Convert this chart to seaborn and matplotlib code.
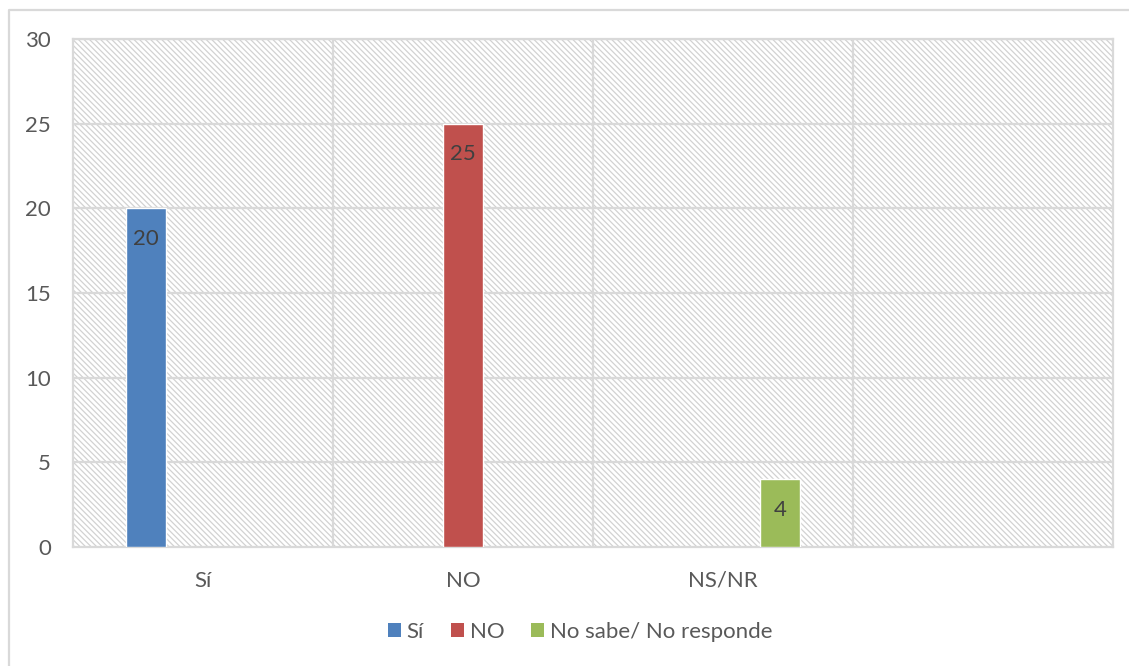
import matplotlib
matplotlib.use("Agg")
import matplotlib.pyplot as plt
from matplotlib.patches import Patch, Rectangle
from matplotlib.lines import Line2D
import seaborn as sns
import pandas as pd

# Survey answers
categories = ["Sí", "NO", "NS/NR", ""]
series = ["Sí", "NO", "No sabe/ No responde"]
bar_category = ["Sí", "NO", "NS/NR"]
values = [20, 25, 4]
colors = ["#4f81bd", "#c0504d", "#9bbb59"]

sns.set_theme(style="white")
plt.rcParams["font.family"] = ["Lato", "DejaVu Sans"]
plt.rcParams["hatch.color"] = "#d2d2d2"
plt.rcParams["hatch.linewidth"] = 0.9

df = pd.DataFrame({"categoria": bar_category, "serie": series, "valor": values})

W, H = 1129, 666
fig = plt.figure(figsize=(W / 100, H / 100), dpi=100)
ax = fig.add_axes([73 / W, 1 - 547 / H, (1113 - 73) / W, (547 - 39) / H])

grid_c = "#d9d9d9"
fs = 16

# hatched plot-area background
ax.add_patch(Rectangle((0, 0), 1, 1, transform=ax.transAxes, facecolor="white",
                       edgecolor="#d2d2d2", hatch="\\" * 6, linewidth=0, zorder=0))

sns.barplot(data=df, x="categoria", y="valor", hue="serie", order=categories,
            hue_order=series, palette=colors, width=0.658, gap=0.315,
            dodge=True, saturation=1, ax=ax, zorder=3, legend=False)

ax.set_xlim(-0.5, 3.5)
ax.set_ylim(0, 30)
ax.set_yticks(range(0, 31, 5))
ax.set_xticks(range(len(categories)))
ax.set_xticklabels(categories)
ax.set_xlabel("")
ax.set_ylabel("")

# grid lines
for yv in range(5, 31, 5):
    ax.axhline(yv, color=grid_c, lw=1.6, zorder=1)
for xv in [0.5, 1.5, 2.5]:
    ax.axvline(xv, color=grid_c, lw=1.6, zorder=1)
for s in ax.spines.values():
    s.set_color(grid_c)
    s.set_linewidth(1.6)

ax.tick_params(axis="both", length=0, labelsize=fs, colors="#595959")
ax.tick_params(axis="x", pad=17)
ax.tick_params(axis="y", pad=16)

for c in ax.containers:
    labels = [f"{v:g}" if v == v and v > 0 else "" for v in c.datavalues]
    ax.bar_label(c, labels=labels, label_type="edge", padding=-29,
                 fontsize=fs, color="#404040")

handles = [Patch(facecolor=col, edgecolor="none") for col in colors]
fig.legend(handles, series, loc="center", bbox_to_anchor=(580 / W, 1 - 632 / H),
           ncol=3, frameon=False, fontsize=fs, handlelength=0.6, handleheight=0.6,
           handletextpad=0.25, columnspacing=1.2, labelcolor="#595959")

# chart-area border
fig.add_artist(Line2D([9 / W, 9 / W, 1.0], [0.0, 1 - 10 / H, 1 - 10 / H],
                      transform=fig.transFigure, color=grid_c, lw=1.6))

fig.savefig("out.png", dpi=100)
